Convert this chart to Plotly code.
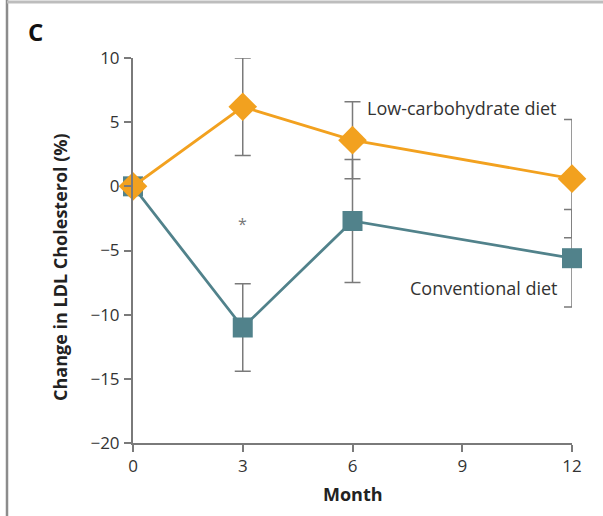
import plotly.graph_objects as go

months = [0, 3, 6, 12]
low_carb = [0, 6.2, 3.6, 0.6]
low_carb_err = [0, 3.8, 3.0, 4.6]
conventional = [0, -11.0, -2.7, -5.6]
conventional_err = [0, 3.4, 4.8, 3.8]
x_ticks = [0, 3, 6, 9, 12]
y_ticks = [-20, -15, -10, -5, 0, 5, 10]

ORANGE = "#F2A11F"
TEAL = "#51828B"
GRAY = "#7a7a7a"
FONT = "Open Sans"

fig = go.Figure()
fig.add_trace(go.Scatter(
    x=months, y=conventional, mode="lines+markers",
    line=dict(color=TEAL, width=2.8),
    marker=dict(symbol="square", size=20, color=TEAL),
    error_y=dict(type="data", array=conventional_err, color=GRAY, thickness=1.5, width=8),
    cliponaxis=False, showlegend=False))
fig.add_trace(go.Scatter(
    x=months, y=low_carb, mode="lines+markers",
    line=dict(color=ORANGE, width=2.8),
    marker=dict(symbol="diamond", size=22, color=ORANGE),
    error_y=dict(type="data", array=low_carb_err, color=GRAY, thickness=1.5, width=8),
    cliponaxis=False, showlegend=False))

W, H = 603, 516
L, R, T, B = 133, 31, 58, 73
pw, ph = W - L - R, H - T - B

def px(xp):
    return (xp - L) / pw

def py(yp):
    return (H - B - yp) / ph

fig.update_layout(
    width=W, height=H,
    margin=dict(l=L, r=R, t=T, b=B, pad=0),
    paper_bgcolor="white", plot_bgcolor="white",
    font=dict(family=FONT, size=17, color="#333"),
    xaxis=dict(range=[0, 12], tickvals=x_ticks, showgrid=False, zeroline=False,
               showline=True, linecolor=GRAY, linewidth=2, ticks="outside",
               ticklen=7, tickwidth=1.5, tickcolor=GRAY, tickfont=dict(size=17, color="#333")),
    yaxis=dict(range=[-20, 10], tickvals=y_ticks, showgrid=False, zeroline=False,
               showline=True, linecolor=GRAY, linewidth=2, ticks="outside",
               ticklen=7, tickwidth=1.5, tickcolor=GRAY, tickfont=dict(size=17, color="#333"),
               ticklabelstandoff=1),
    annotations=[
        dict(text="<b>C</b>", xref="paper", yref="paper", x=px(26), y=py(31),
             xanchor="left", yanchor="middle", showarrow=False,
             font=dict(size=24, color="#111", family=FONT)),
        dict(text="<b>Change in LDL Cholesterol (%)</b>", xref="paper", yref="paper",
             x=px(60), y=py(267), textangle=-90, xanchor="center", yanchor="middle",
             showarrow=False, font=dict(size=18, color="#222", family=FONT)),
        dict(text="<b>Month</b>", xref="paper", yref="paper", x=px(353), y=py(494),
             xanchor="center", yanchor="middle", showarrow=False,
             font=dict(size=18, color="#222", family=FONT)),
        dict(text="Low-carbohydrate diet", x=6.35, y=6.1, xanchor="left", yanchor="middle",
             showarrow=False, font=dict(size=18, color="#333", family=FONT)),
        dict(text="Conventional diet", x=11.65, y=-7.9, xanchor="right", yanchor="middle",
             showarrow=False, font=dict(size=18, color="#333", family=FONT)),
        dict(text="*", x=3, y=-2.9, xanchor="center", yanchor="middle",
             showarrow=False, font=dict(size=16, color="#777", family=FONT)),
    ],
    shapes=[
        dict(type="line", xref="paper", yref="paper", x0=px(7), x1=px(7), y0=py(0), y1=py(H),
             line=dict(color="#8c8c8c", width=2.5)),
        dict(type="line", xref="paper", yref="paper", x0=px(7), x1=px(W), y0=py(2), y1=py(2),
             line=dict(color="#bdbdbd", width=3)),
    ],
)

fig.write_html("out.html", config={"displayModeBar": False},
               post_script="document.body.style.margin='0';document.body.style.overflow='hidden';")
